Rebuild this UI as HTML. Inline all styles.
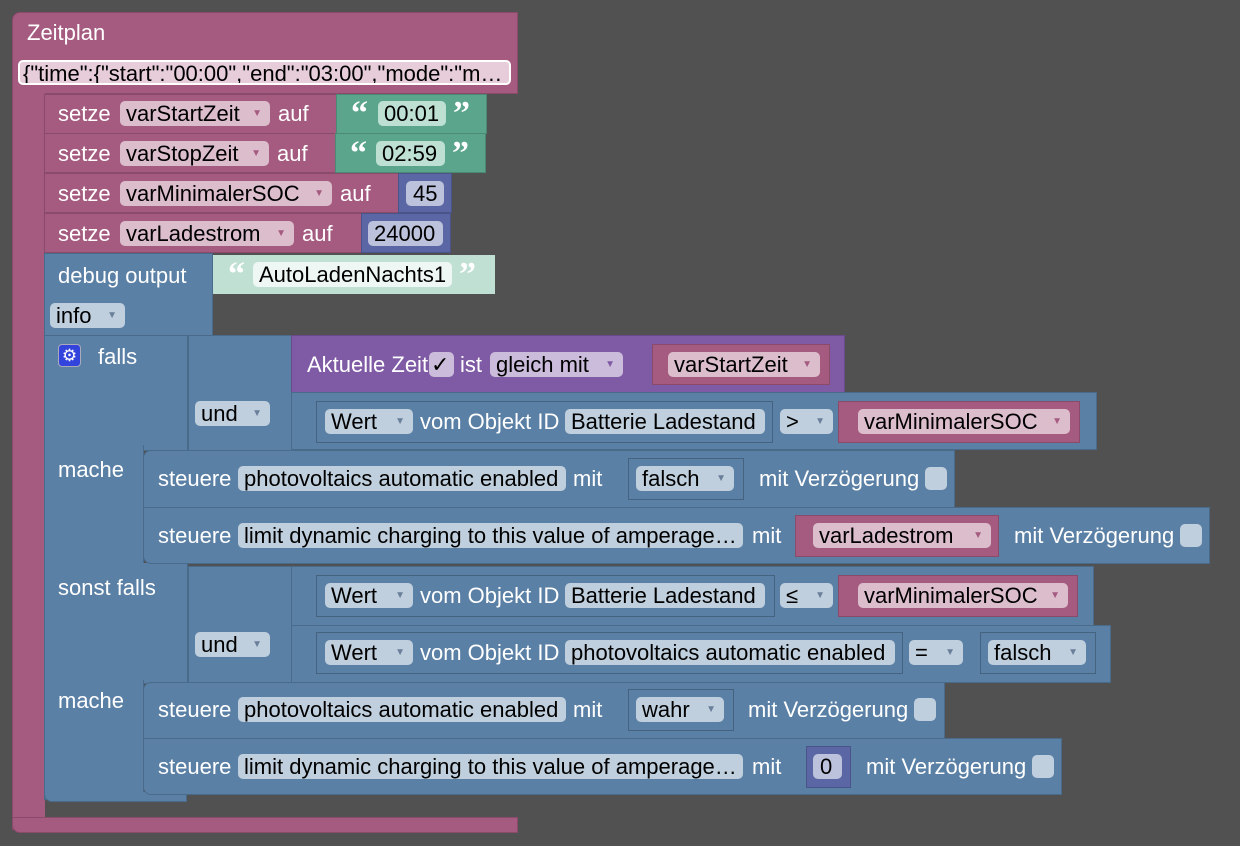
<!DOCTYPE html>
<html><head><meta charset="utf-8"><style>
body{margin:0;width:1240px;height:846px;background:#515151;position:relative;overflow:hidden;font-family:"Liberation Sans",Arial,sans-serif;font-size:22px}
.b{position:absolute;box-sizing:border-box}
.pk{background:#a55b80;border:1px solid #8a4a6a}
.gr{background:#5ba58c;border:1px solid #4a8a74}
.nb{background:#5b67a5;border:1px solid #4a5488}
.bl{background:#5b80a5;border:1px solid #4a6a8a}
.pu{background:#805ba5;border:1px solid #6a4a8a}
.lg{background:#c0e0d3}
.f{position:absolute;box-sizing:border-box;height:25px;line-height:26px;border-radius:5px;padding-left:6px;color:#000;white-space:nowrap;overflow:hidden}
.fp{background:#dcbdcc}.fg{background:#bde0d2}.fn{background:#bdc2dc}.fb{background:#bfcfdd}.fu{background:#ccbcdc}.fl{background:#eef7f3}
.t{position:absolute;color:#fff;white-space:nowrap;line-height:26px}
.ar{font-size:10px;position:absolute;right:8px;top:0;color:#6a7f99}
.fp .ar{color:#a55b80}.fu .ar{color:#805ba5}
.q{position:absolute;color:#fff;font-weight:bold;font-size:34px;line-height:34px;font-family:"Liberation Serif",serif}
.cb{position:absolute;width:22px;height:23px;border-radius:5px;background:#bfcfdd}
</style></head><body>

<div class="b pk" style="left:12px;top:12px;width:506px;height:82px;border-radius:8px 0 0 0"></div>
<div class="b pk" style="left:12px;top:90px;width:33px;height:740px;border-top:none;border-right:none"></div>
<div class="b pk" style="left:12px;top:817px;width:506px;height:16px;border-radius:0 0 0 8px"></div>
<div class="t" style="left:27px;top:20px">Zeitplan</div>
<div class="f" style="left:18px;top:60px;width:493px;background:#e6cdd9;border:2px solid #fff;line-height:23px;padding-left:3px">{"time":{"start":"00:00","end":"03:00","mode":"m…</div>

<div class="b pk" style="left:44px;top:94px;width:294px;height:40px"></div>
<div class="t" style="left:58px;top:101px">setze</div>
<div class="f fp" style="left:120px;top:101px;width:150px">varStartZeit<span class="ar">▼</span></div>
<div class="t" style="left:278px;top:101px">auf</div>
<div class="b gr" style="left:336px;top:94px;width:151px;height:40px"></div>
<div class="q" style="left:351px;top:97px">“</div>
<div class="f fg" style="left:378px;top:101px;width:68px;padding-left:6px">00:01</div>
<div class="q" style="left:453px;top:97px">”</div>

<div class="b pk" style="left:44px;top:133px;width:293px;height:40px"></div>
<div class="t" style="left:58px;top:141px">setze</div>
<div class="f fp" style="left:120px;top:141px;width:149px">varStopZeit<span class="ar">▼</span></div>
<div class="t" style="left:277px;top:141px">auf</div>
<div class="b gr" style="left:335px;top:133px;width:151px;height:40px"></div>
<div class="q" style="left:350px;top:137px">“</div>
<div class="f fg" style="left:376px;top:141px;width:69px;padding-left:6px">02:59</div>
<div class="q" style="left:452px;top:137px">”</div>

<div class="b pk" style="left:44px;top:173px;width:356px;height:40px"></div>
<div class="t" style="left:58px;top:181px">setze</div>
<div class="f fp" style="left:120px;top:181px;width:212px">varMinimalerSOC<span class="ar">▼</span></div>
<div class="t" style="left:340px;top:181px">auf</div>
<div class="b nb" style="left:398px;top:173px;width:54px;height:40px"></div>
<div class="f fn" style="left:406px;top:181px;width:38px;padding-left:7px">45</div>

<div class="b pk" style="left:44px;top:213px;width:319px;height:40px"></div>
<div class="t" style="left:58px;top:221px">setze</div>
<div class="f fp" style="left:120px;top:221px;width:174px">varLadestrom<span class="ar">▼</span></div>
<div class="t" style="left:302px;top:221px">auf</div>
<div class="b nb" style="left:361px;top:213px;width:90px;height:40px"></div>
<div class="f fn" style="left:368px;top:221px;width:75px;padding-left:6px">24000</div>

<div class="b bl" style="left:44px;top:253px;width:169px;height:83px"></div>
<div class="t" style="left:58px;top:263px">debug output</div>
<div class="b lg" style="left:213px;top:255px;width:282px;height:39px"></div>
<div class="q" style="left:228px;top:258px">“</div>
<div class="f fl" style="left:253px;top:262px;width:199px;padding-left:6px">AutoLadenNachts1</div>
<div class="q" style="left:459px;top:258px">”</div>
<div class="f fb" style="left:50px;top:303px;width:75px">info<span class="ar">▼</span></div>

<div class="b bl" style="left:44px;top:335px;width:144px;height:116px"></div>
<div class="b bl" style="left:44px;top:445px;width:100px;height:130px;border-top:none"></div>
<div class="b bl" style="left:44px;top:563px;width:144px;height:121px;border-top:none"></div>
<div class="b bl" style="left:44px;top:680px;width:100px;height:120px;border-top:none"></div>
<div class="b bl" style="left:44px;top:792px;width:143px;height:10px;border-top:none;border-radius:0 0 0 8px"></div>
<div class="b" style="left:58px;top:344px;width:23px;height:23px;background:#3344dd;border-radius:4px;border:1px solid #aab;color:#fff;font-size:17px;line-height:21px;text-align:center">⚙</div>
<div class="t" style="left:98px;top:344px">falls</div>
<div class="t" style="left:58px;top:457px">mache</div>
<div class="t" style="left:58px;top:575px">sonst falls</div>
<div class="t" style="left:58px;top:688px">mache</div>

<div class="b bl" style="left:188px;top:335px;width:104px;height:116px"></div>
<div class="f fb" style="left:195px;top:401px;width:75px">und<span class="ar">▼</span></div>
<div class="b pu" style="left:291px;top:335px;width:554px;height:58px"></div>
<div class="t" style="left:307px;top:352px">Aktuelle Zeit</div>
<div class="f fu" style="left:429px;top:352px;width:25px;padding-left:2px">✓</div>
<div class="t" style="left:460px;top:352px">ist</div>
<div class="f fu" style="left:490px;top:352px;width:133px">gleich mit<span class="ar">▼</span></div>
<div class="b pk" style="left:652px;top:344px;width:178px;height:41px"></div>
<div class="f fp" style="left:668px;top:352px;width:152px">varStartZeit<span class="ar">▼</span></div>
<div class="b bl" style="left:291px;top:392px;width:806px;height:58px"></div>
<div class="b bl" style="left:316px;top:401px;width:457px;height:42px;border-color:#45627f"></div>
<div class="f fb" style="left:325px;top:409px;width:88px">Wert<span class="ar">▼</span></div>
<div class="t" style="left:420px;top:409px">vom Objekt ID</div>
<div class="f fb" style="left:565px;top:409px;width:200px">Batterie Ladestand</div>
<div class="f fb" style="left:780px;top:409px;width:53px">&gt;<span class="ar">▼</span></div>
<div class="b pk" style="left:838px;top:401px;width:242px;height:42px"></div>
<div class="f fp" style="left:858px;top:409px;width:212px">varMinimalerSOC<span class="ar">▼</span></div>

<div class="b bl" style="left:143px;top:450px;width:812px;height:58px;border-radius:8px 0 0 0"></div>
<div class="t" style="left:158px;top:466px">steuere</div>
<div class="f fb" style="left:238px;top:466px;width:328px">photovoltaics automatic enabled</div>
<div class="t" style="left:573px;top:466px">mit</div>
<div class="b bl" style="left:628px;top:458px;width:116px;height:42px;border-color:#45627f"></div>
<div class="f fb" style="left:636px;top:466px;width:98px">falsch<span class="ar">▼</span></div>
<div class="t" style="left:759px;top:466px">mit Verzögerung</div>
<div class="cb" style="left:925px;top:467px"></div>
<div class="b bl" style="left:143px;top:507px;width:1067px;height:57px;border-radius:0 0 0 8px"></div>
<div class="t" style="left:158px;top:523px">steuere</div>
<div class="f fb" style="left:238px;top:523px;width:505px">limit dynamic charging to this value of amperage…</div>
<div class="t" style="left:752px;top:523px">mit</div>
<div class="b pk" style="left:795px;top:515px;width:204px;height:42px"></div>
<div class="f fp" style="left:813px;top:523px;width:178px">varLadestrom<span class="ar">▼</span></div>
<div class="t" style="left:1014px;top:523px">mit Verzögerung</div>
<div class="cb" style="left:1180px;top:524px"></div>

<div class="b bl" style="left:188px;top:566px;width:104px;height:117px"></div>
<div class="f fb" style="left:195px;top:632px;width:75px">und<span class="ar">▼</span></div>
<div class="b bl" style="left:291px;top:566px;width:803px;height:60px"></div>
<div class="b bl" style="left:316px;top:575px;width:459px;height:42px;border-color:#45627f"></div>
<div class="f fb" style="left:325px;top:583px;width:88px">Wert<span class="ar">▼</span></div>
<div class="t" style="left:420px;top:583px">vom Objekt ID</div>
<div class="f fb" style="left:565px;top:583px;width:200px">Batterie Ladestand</div>
<div class="f fb" style="left:780px;top:583px;width:53px">≤<span class="ar">▼</span></div>
<div class="b pk" style="left:838px;top:575px;width:240px;height:42px"></div>
<div class="f fp" style="left:858px;top:583px;width:210px">varMinimalerSOC<span class="ar">▼</span></div>
<div class="b bl" style="left:291px;top:625px;width:820px;height:58px"></div>
<div class="b bl" style="left:316px;top:632px;width:587px;height:42px;border-color:#45627f"></div>
<div class="f fb" style="left:325px;top:640px;width:88px">Wert<span class="ar">▼</span></div>
<div class="t" style="left:420px;top:640px">vom Objekt ID</div>
<div class="f fb" style="left:565px;top:640px;width:330px">photovoltaics automatic enabled</div>
<div class="f fb" style="left:909px;top:640px;width:54px">=<span class="ar">▼</span></div>
<div class="b bl" style="left:980px;top:632px;width:116px;height:42px;border-color:#45627f"></div>
<div class="f fb" style="left:988px;top:640px;width:98px">falsch<span class="ar">▼</span></div>

<div class="b bl" style="left:143px;top:682px;width:802px;height:57px;border-radius:8px 0 0 0"></div>
<div class="t" style="left:158px;top:697px">steuere</div>
<div class="f fb" style="left:238px;top:697px;width:328px">photovoltaics automatic enabled</div>
<div class="t" style="left:573px;top:697px">mit</div>
<div class="b bl" style="left:628px;top:689px;width:106px;height:42px;border-color:#45627f"></div>
<div class="f fb" style="left:636px;top:697px;width:88px">wahr<span class="ar">▼</span></div>
<div class="t" style="left:748px;top:697px">mit Verzögerung</div>
<div class="cb" style="left:914px;top:698px"></div>
<div class="b bl" style="left:143px;top:738px;width:919px;height:57px;border-radius:0 0 0 8px"></div>
<div class="t" style="left:158px;top:754px">steuere</div>
<div class="f fb" style="left:238px;top:754px;width:505px">limit dynamic charging to this value of amperage…</div>
<div class="t" style="left:752px;top:754px">mit</div>
<div class="b nb" style="left:806px;top:746px;width:45px;height:42px"></div>
<div class="f fn" style="left:813px;top:754px;width:29px;padding-left:7px">0</div>
<div class="t" style="left:866px;top:754px">mit Verzögerung</div>
<div class="cb" style="left:1032px;top:755px"></div>

</body></html>
